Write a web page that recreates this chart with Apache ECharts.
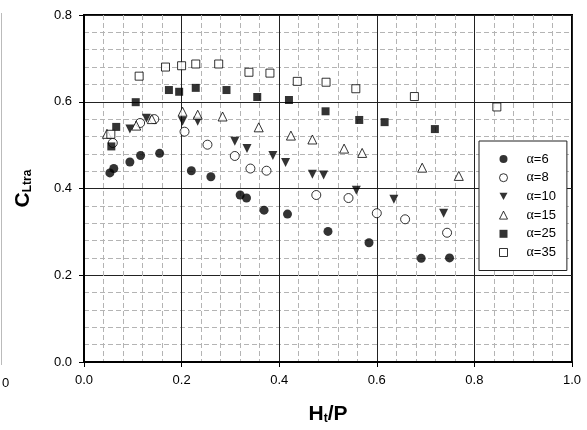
<!DOCTYPE html>
<html>
<head>
<meta charset="utf-8">
<script src="https://cdn.jsdelivr.net/npm/echarts@6/dist/echarts.min.js"></script>
<style>
  html, body { margin: 0; padding: 0; background: #fff; }
  #chart { width: 587px; height: 430px; }
</style>
</head>
<body>
<div id="chart"></div>
<script>
// 数据 (H_t/P, C_Ltra)
var a6x = [0.053, 0.061, 0.094, 0.116, 0.155, 0.220, 0.260, 0.320, 0.333, 0.369, 0.417, 0.500, 0.584, 0.691, 0.749];
var a6y = [0.436, 0.446, 0.461, 0.476, 0.481, 0.441, 0.427, 0.385, 0.378, 0.350, 0.341, 0.301, 0.275, 0.239, 0.240];

var a8x = [0.059, 0.115, 0.144, 0.206, 0.253, 0.309, 0.341, 0.374, 0.476, 0.542, 0.600, 0.658, 0.744];
var a8y = [0.505, 0.551, 0.560, 0.531, 0.501, 0.475, 0.446, 0.441, 0.385, 0.378, 0.343, 0.329, 0.298];

var a10x = [0.094, 0.128, 0.202, 0.233, 0.309, 0.334, 0.387, 0.413, 0.468, 0.491, 0.558, 0.635, 0.737];
var a10y = [0.537, 0.562, 0.555, 0.555, 0.509, 0.492, 0.476, 0.460, 0.433, 0.431, 0.396, 0.375, 0.343];

var a15x = [0.047, 0.107, 0.139, 0.202, 0.233, 0.284, 0.358, 0.424, 0.468, 0.533, 0.570, 0.693, 0.768];
var a15y = [0.526, 0.545, 0.560, 0.577, 0.570, 0.566, 0.541, 0.522, 0.513, 0.492, 0.482, 0.448, 0.429];

var a25x = [0.056, 0.066, 0.106, 0.174, 0.195, 0.229, 0.292, 0.355, 0.420, 0.495, 0.564, 0.616, 0.719];
var a25y = [0.497, 0.542, 0.599, 0.627, 0.623, 0.632, 0.627, 0.611, 0.604, 0.578, 0.558, 0.553, 0.537];

var a35x = [0.055, 0.113, 0.167, 0.200, 0.229, 0.276, 0.338, 0.381, 0.437, 0.496, 0.557, 0.677, 0.846];
var a35y = [0.525, 0.659, 0.680, 0.683, 0.687, 0.687, 0.668, 0.666, 0.647, 0.645, 0.630, 0.612, 0.588];

var legendNames = ['α=6', 'α=8', 'α=10', 'α=15', 'α=25', 'α=35'];

function pairs(xs, ys) {
    var out = [];
    for (var i = 0; i < xs.length; i++) {
        out.push([xs[i], ys[i]]);
    }
    return out;
}

var black = { color: '#000' };
var hollow = { color: '#fff', borderColor: '#000', borderWidth: 1 };
var downTri = 'path://M0,0L10,0L5,9Z';

var font = 'Liberation Sans, Arial, sans-serif';

var myChart = echarts.init(document.getElementById('chart'));

var axisCommon = {
    type: 'value',
    axisLine: { show: true, lineStyle: { color: '#000', width: 2 } },
    axisTick: { show: true, length: 5, lineStyle: { color: '#000', width: 1 } },
    minorTick: { show: false, splitNumber: 5 },
    splitLine: { show: true, lineStyle: { color: '#222', width: 1 } },
    minorSplitLine: { show: true, lineStyle: { color: '#b4b4b4', width: 1, type: [5, 3] } },
    axisLabel: {
        color: '#000', fontSize: 13, fontFamily: font, margin: 12,
        formatter: function (v) { return v.toFixed(1); }
    }
};

// 图例项
var legendIcons = ['circle', 'circle', downTri, 'triangle', 'rect', 'rect'];
var legendStyles = [black, hollow, black, hollow, black, hollow];
var legendData = legendNames.map(function (n, i) {
    return { name: n, icon: legendIcons[i], itemStyle: legendStyles[i] };
});

var option = {
    animation: false,
    backgroundColor: '#fff',
    grid: {
        left: 84, top: 15, width: 488, height: 351,
        show: true, borderColor: '#000', borderWidth: 2, backgroundColor: 'transparent'
    },
    xAxis: echarts.util.merge({
        min: 0, max: 1, interval: 0.2,
        name: '{h|H}{s|t}{h|/P}',
        nameLocation: 'middle',
        nameGap: 41,
        nameTextStyle: {
            rich: {
                h: { fontSize: 21, fontWeight: 'bold', fontFamily: font, color: '#000' },
                s: { fontSize: 12, fontWeight: 'bold', fontFamily: font, color: '#000', padding: [10, 0, 0, 0] }
            }
        }
    }, axisCommon, false),
    yAxis: echarts.util.merge({
        min: 0, max: 0.8, interval: 0.2,
        name: '{c|C}{s|Ltra}',
        nameLocation: 'middle',
        nameRotate: 90,
        nameGap: 50,
        nameTextStyle: {
            rich: {
                c: { fontSize: 21, fontWeight: 'bold', fontFamily: font, color: '#000' },
                s: { fontSize: 12, fontWeight: 'bold', fontFamily: font, color: '#000', padding: [10, 0, 0, 0] }
            }
        }
    }, axisCommon, false),
    legend: {
        orient: 'vertical',
        left: 479,
        top: 141,
        padding: [11, 11, 11, 20],
        itemWidth: 8,
        itemHeight: 8,
        itemGap: 4.7,
        borderColor: '#222',
        borderWidth: 1,
        backgroundColor: '#fff',
        data: legendData,
        formatter: function (name) {
            return '{a|α}{t|' + name.slice(1) + '}';
        },
        textStyle: {
            color: '#000',
            lineHeight: 14,
            rich: {
                a: { fontSize: 14, fontFamily: 'Liberation Serif, serif', color: '#000', lineHeight: 14, padding: [0, 0, 0, 14] },
                t: { fontSize: 13, fontFamily: font, color: '#000', lineHeight: 14 }
            }
        }
    },
    graphic: [
        { type: 'line', shape: { x1: 1.5, y1: 13, x2: 1.5, y2: 365 }, style: { stroke: '#bbb', lineWidth: 1 } },
        { type: 'text', left: 2, top: 377, style: { text: '0', fontSize: 13, fontFamily: font, fill: '#000' } }
    ],
    series: [
        { name: 'α=6', type: 'scatter', symbol: 'circle', symbolSize: 9, itemStyle: black, data: pairs(a6x, a6y) },
        { name: 'α=8', type: 'scatter', symbol: 'circle', symbolSize: 9, itemStyle: hollow, data: pairs(a8x, a8y) },
        { name: 'α=10', type: 'scatter', symbol: 'triangle', symbolRotate: 180, symbolSize: 9, itemStyle: black, data: pairs(a10x, a10y) },
        { name: 'α=15', type: 'scatter', symbol: 'triangle', symbolSize: 9, itemStyle: hollow, data: pairs(a15x, a15y) },
        { name: 'α=25', type: 'scatter', symbol: 'rect', symbolSize: 8, itemStyle: black, data: pairs(a25x, a25y) },
        { name: 'α=35', type: 'scatter', symbol: 'rect', symbolSize: 8, itemStyle: hollow, data: pairs(a35x, a35y) }
    ]
};

myChart.setOption(option);
</script>
</body>
</html>
